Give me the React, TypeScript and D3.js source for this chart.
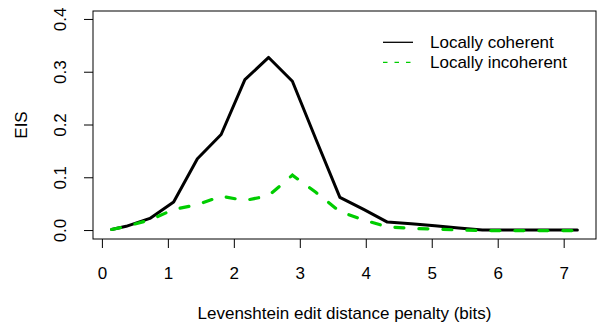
import { useRef, useEffect } from "react";
import * as d3 from "d3";

const penalty = [0.14, 0.36, 0.72, 1.08, 1.44, 1.8, 2.16, 2.52, 2.88, 3.24, 3.6, 3.96, 4.32, 4.68, 5.04, 5.4, 5.76, 6.12, 6.48, 6.84, 7.2];
const coherent = [0.002, 0.008, 0.023, 0.054, 0.136, 0.182, 0.286, 0.328, 0.283, 0.172, 0.063, 0.04, 0.016, 0.013, 0.009, 0.005, 0.001, 0.001, 0.001, 0.001, 0.001];
const incoherent = [0.002, 0.008, 0.02, 0.04, 0.049, 0.065, 0.057, 0.066, 0.105, 0.072, 0.036, 0.02, 0.007, 0.004, 0.003, 0.001, 0.0, 0.0, 0.0, 0.0, 0.0];
const xTicks = [0, 1, 2, 3, 4, 5, 6, 7];
const yTicks = [0, 0.1, 0.2, 0.3, 0.4];
const seriesNames = ["Locally coherent", "Locally incoherent"];

const GREEN = "#00cd00";
const FONT = "'Liberation Sans', Arial, Helvetica, sans-serif";

export default function App() {
  const svgRef = useRef<SVGSVGElement>(null);

  useEffect(() => {
    if (!svgRef.current) return;
    const svg = d3.select(svgRef.current);
    svg.selectAll("*").remove();

    const width = 601;
    const height = 325;
    const box = { left: 93, right: 596, top: 11, bottom: 239 };

    // R style 4% padding
    const x = d3.scaleLinear().domain([-0.1424, 7.4824]).range([box.left, box.right]);
    const y = d3.scaleLinear().domain([-0.016, 0.416]).range([box.bottom, box.top]);

    svg.attr("viewBox", `0 0 ${width} ${height}`).attr("font-family", FONT);

    // x axis ticks
    const xa = svg.append("g");
    xa.selectAll("line")
      .data(xTicks)
      .join("line")
      .attr("x1", (d) => x(d))
      .attr("x2", (d) => x(d))
      .attr("y1", box.bottom)
      .attr("y2", box.bottom + 9)
      .attr("stroke", "#000");
    xa.selectAll("text")
      .data(xTicks)
      .join("text")
      .attr("x", (d) => x(d))
      .attr("y", 279)
      .attr("text-anchor", "middle")
      .attr("font-size", "17px")
      .text((d) => String(d));

    // y axis ticks
    const ya = svg.append("g");
    ya.selectAll("line")
      .data(yTicks)
      .join("line")
      .attr("x1", box.left - 9)
      .attr("x2", box.left)
      .attr("y1", (d) => y(d))
      .attr("y2", (d) => y(d))
      .attr("stroke", "#000");
    ya.selectAll("text")
      .data(yTicks)
      .join("text")
      .attr("transform", (d) => `translate(66,${y(d)}) rotate(-90)`)
      .attr("text-anchor", "middle")
      .attr("font-size", "17px")
      .text((d) => d3.format(".1f")(d));

    // lines
    const line = d3
      .line<number>()
      .x((_, i) => x(penalty[i]))
      .y((d) => y(d));

    svg.append("path")
      .datum(coherent)
      .attr("d", line)
      .attr("fill", "none")
      .attr("stroke", "#000")
      .attr("stroke-width", 3)
      .attr("stroke-linejoin", "round")
      .attr("stroke-linecap", "round");

    svg.append("path")
      .datum(incoherent)
      .attr("d", line)
      .attr("fill", "none")
      .attr("stroke", GREEN)
      .attr("stroke-width", 3.2)
      .attr("stroke-dasharray", "9 15")
      .attr("stroke-linecap", "round");

    // box
    svg.append("rect")
      .attr("x", box.left)
      .attr("y", box.top)
      .attr("width", box.right - box.left)
      .attr("height", box.bottom - box.top)
      .attr("fill", "none")
      .attr("stroke", "#000");

    // legend
    const lg = svg.append("g");
    const rows = [
      { name: seriesNames[0], color: "#000", dash: null as string | null, y: 42.3 },
      { name: seriesNames[1], color: GREEN, dash: "4.5 7", y: 62.3 },
    ];
    rows.forEach((r) => {
      lg.append("line")
        .attr("x1", 383)
        .attr("x2", 413)
        .attr("y1", r.y)
        .attr("y2", r.y)
        .attr("stroke", r.color)
        .attr("stroke-width", 1.3)
        .attr("stroke-dasharray", r.dash);
      lg.append("text")
        .attr("x", 430)
        .attr("y", r.y + 5.8)
        .attr("font-size", "17px")
        .text(r.name);
    });

    // axis titles
    svg.append("text")
      .attr("x", (box.left + box.right) / 2)
      .attr("y", 319)
      .attr("text-anchor", "middle")
      .attr("font-size", "17px")
      .text("Levenshtein edit distance penalty (bits)");

    svg.append("text")
      .attr("transform", `translate(27,${(box.top + box.bottom) / 2}) rotate(-90)`)
      .attr("text-anchor", "middle")
      .attr("font-size", "17px")
      .text("EIS");
  }, []);

  return (
    <div style={{ position: "fixed", left: 0, top: 0, width: 601, height: 325, background: "#fff" }}>
      <svg ref={svgRef} width={601} height={325} style={{ display: "block" }} />
    </div>
  );
}
